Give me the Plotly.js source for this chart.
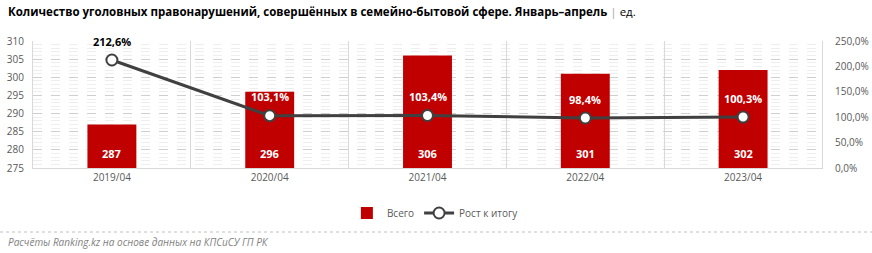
<!DOCTYPE html>
<html><head><meta charset="utf-8">
<script src="https://cdn.plot.ly/plotly-3.0.1.min.js"></script>
<style>html,body{margin:0;padding:0;background:#fff}#c{width:872px;height:253px}</style>
</head><body><div id="c"></div>
<script>
const categories = ['2019/04','2020/04','2021/04','2022/04','2023/04'];
const totals = [287, 296, 306, 301, 302];
const growth = [212.6, 103.1, 103.4, 98.4, 100.3];
const growthLabels = ['212,6%','103,1%','103,4%','98,4%','100,3%'];
const leftTicks = [275,280,285,290,295,300,305,310];
const rightTicks = [0,50,100,150,200,250];
const rightTickLabels = ['0,0%','50,0%','100,0%','150,0%','200,0%','250,0%'];

const FONT = 'Open Sans, Liberation Sans, sans-serif';
const W = 872, L = 33, R = 50, T = 41, B = 85;
const pw = W - L - R, ph = 253 - T - B;

const bars = {
  type: 'bar', name: 'Всего', x: categories, y: totals,
  marker: {color: '#c00000'}, width: 0.31, textposition: 'none', hoverinfo: 'skip'
};
const line = {
  type: 'scatter', mode: 'lines+markers', name: 'Рост к итогу',
  x: categories, y: growth, yaxis: 'y2',
  line: {color: '#404040', width: 3},
  marker: {size: 11, color: '#ffffff', line: {color: '#404040', width: 2}},
  cliponaxis: false
};

const barLabels = categories.map((c, i) => ({
  xref: 'x', yref: 'y', x: c, y: 275, yanchor: 'middle', yshift: 15, showarrow: false,
  text: '<b>' + totals[i] + '</b>', font: {size: 11, color: '#ffffff', family: FONT}
}));
const lineLabels = categories.map((c, i) => ({
  xref: 'x', yref: 'y2', x: c, y: growth[i], yanchor: 'middle', yshift: 19, showarrow: false,
  text: '<b>' + growthLabels[i] + '</b>',
  font: {size: 11, color: i === 0 ? '#000000' : '#ffffff', family: FONT}
}));

const layout = {
  width: W, height: 253,
  margin: {l: L, r: R, t: T, b: B, pad: 0},
  paper_bgcolor: '#ffffff', plot_bgcolor: '#ffffff',
  font: {family: FONT, color: '#595959', size: 10},
  showlegend: true,
  legend: {orientation: 'h', x: 0.51, xanchor: 'center', y: -0.24, yanchor: 'top',
           font: {size: 10, color: '#595959', family: FONT}, traceorder: 'normal', itemwidth: 30},
  xaxis: {type: 'category', showgrid: true, gridcolor: '#d9d9d9', tickson: 'boundaries',
          ticks: '', showline: true, linecolor: '#d9d9d9', linewidth: 1,
          tickfont: {size: 10, color: '#595959'}, fixedrange: true},
  yaxis: {range: [275, 310], tickvals: leftTicks, ticks: '', showline: true, linecolor: '#d9d9d9',
          showgrid: true, gridcolor: '#cfcfcf', griddash: 'dash', gridwidth: 1, zeroline: false,
          minor: {dtick: 1, showgrid: true, gridcolor: '#eeeeee', gridwidth: 1},
          tickfont: {size: 10, color: '#595959'}, ticklabelstandoff: 6},
  yaxis2: {overlaying: 'y', side: 'right', range: [0, 250], tickvals: rightTicks, ticktext: rightTickLabels,
           showgrid: false, zeroline: false, ticks: '', showline: true, linecolor: '#d9d9d9',
           tickfont: {size: 10, color: '#595959'}, ticklabelstandoff: 10},
  annotations: [
    {xref: 'paper', yref: 'paper', x: -L/pw + 6/pw, y: 1 + (T - 12)/ph, xanchor: 'left', yanchor: 'middle',
     text: '<b>Количество уголовных правонарушений, совершённых в семейно-бытовой сфере. Январь–апрель</b> <span style="color:#a6a6a6">|</span> ед.',
     showarrow: false, font: {size: 11.5, color: '#000000', family: FONT}},
    {xref: 'paper', yref: 'paper', x: -L/pw + 6/pw, y: -(242 - T - ph)/ph, xanchor: 'left', yanchor: 'middle',
     text: '<i>Расчёты Ranking.kz на основе данных на КПСиСУ ГП РК</i>',
     showarrow: false, font: {size: 10, color: '#7f7f7f', family: FONT}}
  ].concat(barLabels, lineLabels),
  shapes: [
    {type: 'line', xref: 'paper', yref: 'paper', x0: -L/pw, x1: (W - L)/pw,
     y0: -(232 - T - ph)/ph, y1: -(232 - T - ph)/ph, line: {color: '#bfbfbf', width: 1, dash: 'dot'}}
  ]
};

Plotly.newPlot('c', [bars, line], layout, {displayModeBar: false, staticPlot: true});
</script></body></html>
